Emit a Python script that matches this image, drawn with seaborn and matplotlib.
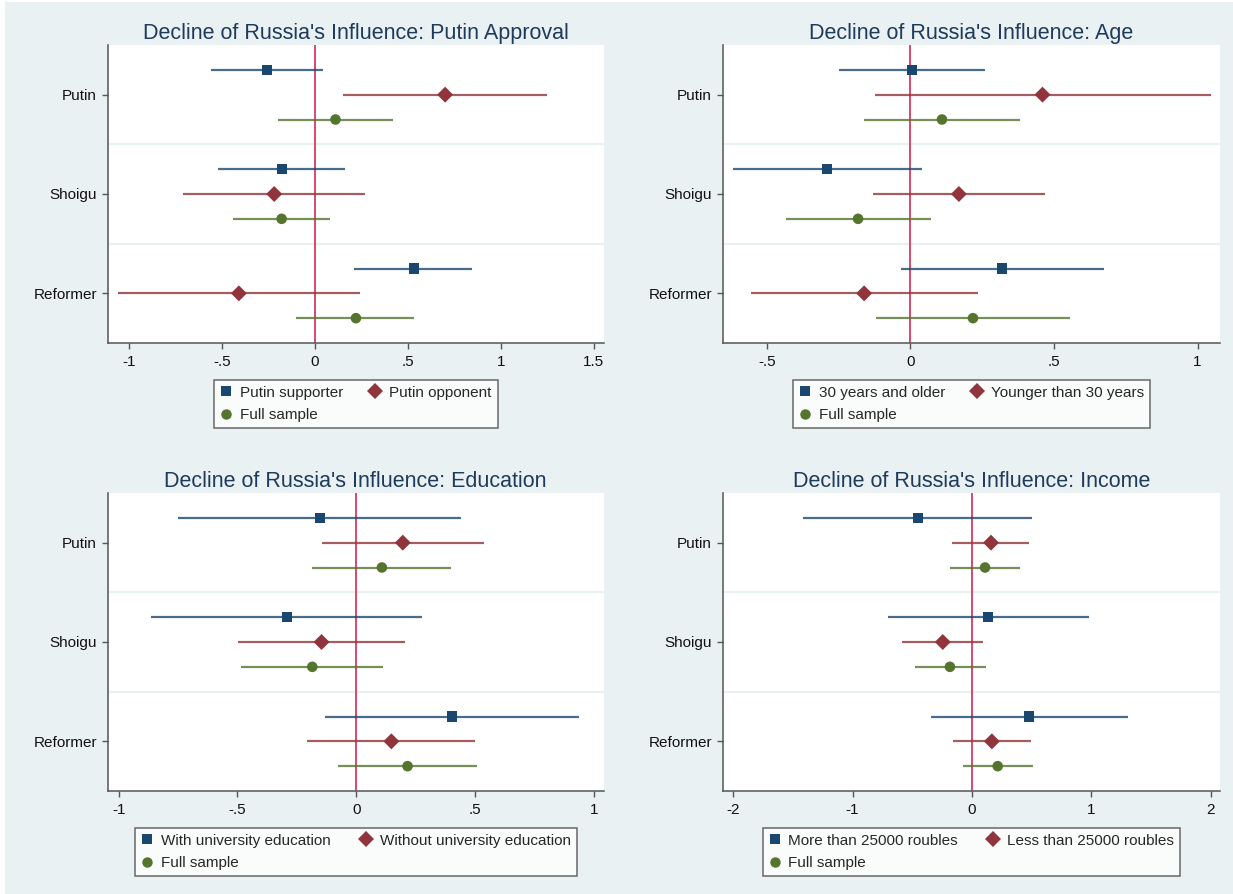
import numpy as np
import pandas as pd
import matplotlib
matplotlib.use("Agg")
import matplotlib.pyplot as plt
from matplotlib.lines import Line2D
from matplotlib.patches import Rectangle
import seaborn as sns

# datos (estimacion e intervalos)
groups = ["Putin", "Shoigu", "Reformer"]

approval_series = ["Putin supporter", "Putin opponent", "Full sample"]
approval_est = [[-0.26, -0.18, 0.53], [0.70, -0.22, -0.41], [0.11, -0.18, 0.22]]
approval_lo = [[-0.56, -0.52, 0.21], [0.15, -0.71, -1.06], [-0.20, -0.44, -0.10]]
approval_hi = [[0.045, 0.16, 0.845], [1.25, 0.27, 0.24], [0.42, 0.08, 0.53]]
approval_ticks = [-1, -0.5, 0, 0.5, 1, 1.5]

age_series = ["30 years and older", "Younger than 30 years", "Full sample"]
age_est = [[0.007, -0.289, 0.32], [0.46, 0.169, -0.161], [0.11, -0.182, 0.218]]
age_lo = [[-0.25, -0.617, -0.033], [-0.124, -0.131, -0.555], [-0.163, -0.434, -0.12]]
age_hi = [[0.26, 0.039, 0.674], [1.047, 0.468, 0.236], [0.383, 0.072, 0.556]]
age_ticks = [-0.5, 0, 0.5, 1]

edu_series = ["With university education", "Without university education", "Full sample"]
edu_est = [[-0.153, -0.293, 0.403], [0.196, -0.146, 0.148], [0.108, -0.185, 0.216]]
edu_lo = [[-0.749, -0.865, -0.131], [-0.143, -0.499, -0.208], [-0.185, -0.483, -0.077]]
edu_hi = [[0.443, 0.278, 0.937], [0.537, 0.205, 0.502], [0.399, 0.111, 0.509]]
edu_ticks = [-1, -0.5, 0, 0.5, 1]

inc_series = ["More than 25000 roubles", "Less than 25000 roubles", "Full sample"]
inc_est = [[-0.454, 0.136, 0.48], [0.159, -0.245, 0.166], [0.109, -0.185, 0.215]]
inc_lo = [[-1.414, -0.705, -0.341], [-0.166, -0.583, -0.159], [-0.182, -0.474, -0.076]]
inc_hi = [[0.503, 0.977, 1.305], [0.48, 0.096, 0.493], [0.40, 0.113, 0.507]]
inc_ticks = [-2, -1, 0, 1, 2]

panels = [
    ("Decline of Russia's Influence: Putin Approval", approval_series, approval_est, approval_lo, approval_hi, approval_ticks, (-1.117, 1.555), 1.7),
    ("Decline of Russia's Influence: Age", age_series, age_est, age_lo, age_hi, age_ticks, (-0.654, 1.078), 1.7),
    ("Decline of Russia's Influence: Education", edu_series, edu_est, edu_lo, edu_hi, edu_ticks, (-1.047, 1.043), 1.9),
    ("Decline of Russia's Influence: Income", inc_series, inc_est, inc_lo, inc_hi, inc_ticks, (-2.089, 2.076), 1.9),
]

colores = ["#1a476f", "#90353b", "#55752f"]
marcadores = ["s", "D", "o"]
tamanos = [52, 66, 58]
fondo = "#eaf1f3"

sns.set_style("ticks")
plt.rcParams["font.family"] = ["Liberation Sans", "DejaVu Sans"]

fig = plt.figure(figsize=(12.33, 8.94), dpi=100, facecolor="white")
fig.patches.append(Rectangle((5 / 1233, 0), 1, 1 - 2 / 894, transform=fig.transFigure,
                             facecolor=fondo, edgecolor="none", zorder=-10))

posiciones = [
    [107.5 / 1233, 1 - 343 / 894, 496.5 / 1233, 298 / 894],
    [722.5 / 1233, 1 - 343 / 894, 497.5 / 1233, 298 / 894],
    [107.5 / 1233, 1 - 791 / 894, 496.5 / 1233, 298 / 894],
    [722.5 / 1233, 1 - 791 / 894, 497.5 / 1233, 298 / 894],
]


def fmt(v):
    s = f"{v:g}"
    return s.replace("0.", ".") if abs(v) < 1 else s


for (titulo, series, est, lo, hi, ticks, xlim, colsep), pos in zip(panels, posiciones):
    # tabla larga para seaborn
    filas = []
    for s, nombre in enumerate(series):
        for g, grupo in enumerate(groups):
            filas.append({"serie": nombre, "grupo": grupo, "est": est[s][g],
                          "lo": lo[s][g], "hi": hi[s][g], "ypos": 4 * g + (s - 1)})
    df = pd.DataFrame(filas)

    ax = fig.add_axes(pos)
    ax.set_facecolor("white")

    # separadores entre grupos
    for yy in [2, 6]:
        ax.axhline(yy, color=fondo, lw=1.6, zorder=1)
    ax.axvline(0, color="#d9486d", lw=1.4, zorder=2)

    for s, nombre in enumerate(series):
        sub = df[df["serie"] == nombre]
        ax.hlines(sub["ypos"], sub["lo"], sub["hi"], color=colores[s], lw=1.6, alpha=0.8, zorder=3)

    sns.scatterplot(data=df, x="est", y="ypos", hue="serie", style="serie",
                    hue_order=series, style_order=series,
                    palette=colores, markers=marcadores, size="serie",
                    sizes=dict(zip(series, tamanos)), linewidth=0,
                    legend=False, ax=ax, zorder=4)

    ax.set_ylim(10, -2)
    ax.set_xlim(*xlim)
    ax.set_yticks([0, 4, 8])
    ax.set_yticklabels(groups)
    ax.set_xticks(ticks)
    ax.set_xticklabels([fmt(t) for t in ticks])
    ax.set_xlabel("")
    ax.set_ylabel("")
    ax.tick_params(axis="both", labelsize=11, length=4, width=1, color="#555555", labelcolor="#111111")
    ax.tick_params(axis="x", pad=5)
    for lado in ["top", "right"]:
        ax.spines[lado].set_visible(False)
    for lado in ["left", "bottom"]:
        ax.spines[lado].set_color("#555555")
        ax.spines[lado].set_linewidth(1.1)
    ax.set_title(titulo, fontsize=15.5, color="#1e3a5c", pad=4)

    handles = [Line2D([], [], marker=marcadores[i], color=colores[i], linestyle="none",
                      markersize=[7, 8, 7.5][i], markeredgewidth=0) for i in range(3)]
    # orden por filas
    orden = [0, 2, 1]
    leg = ax.legend([handles[i] for i in orden], [series[i] for i in orden], ncol=2,
                    loc="upper center", bbox_to_anchor=(0.5, -0.097), frameon=True,
                    fancybox=False, fontsize=11, handlelength=0.8, handletextpad=0.5,
                    columnspacing=colsep, borderpad=0.4, labelspacing=0.55)
    leg.get_frame().set_edgecolor("#444444")
    leg.get_frame().set_linewidth(1.1)

fig.savefig("out.png", dpi=100, facecolor=fig.get_facecolor())
